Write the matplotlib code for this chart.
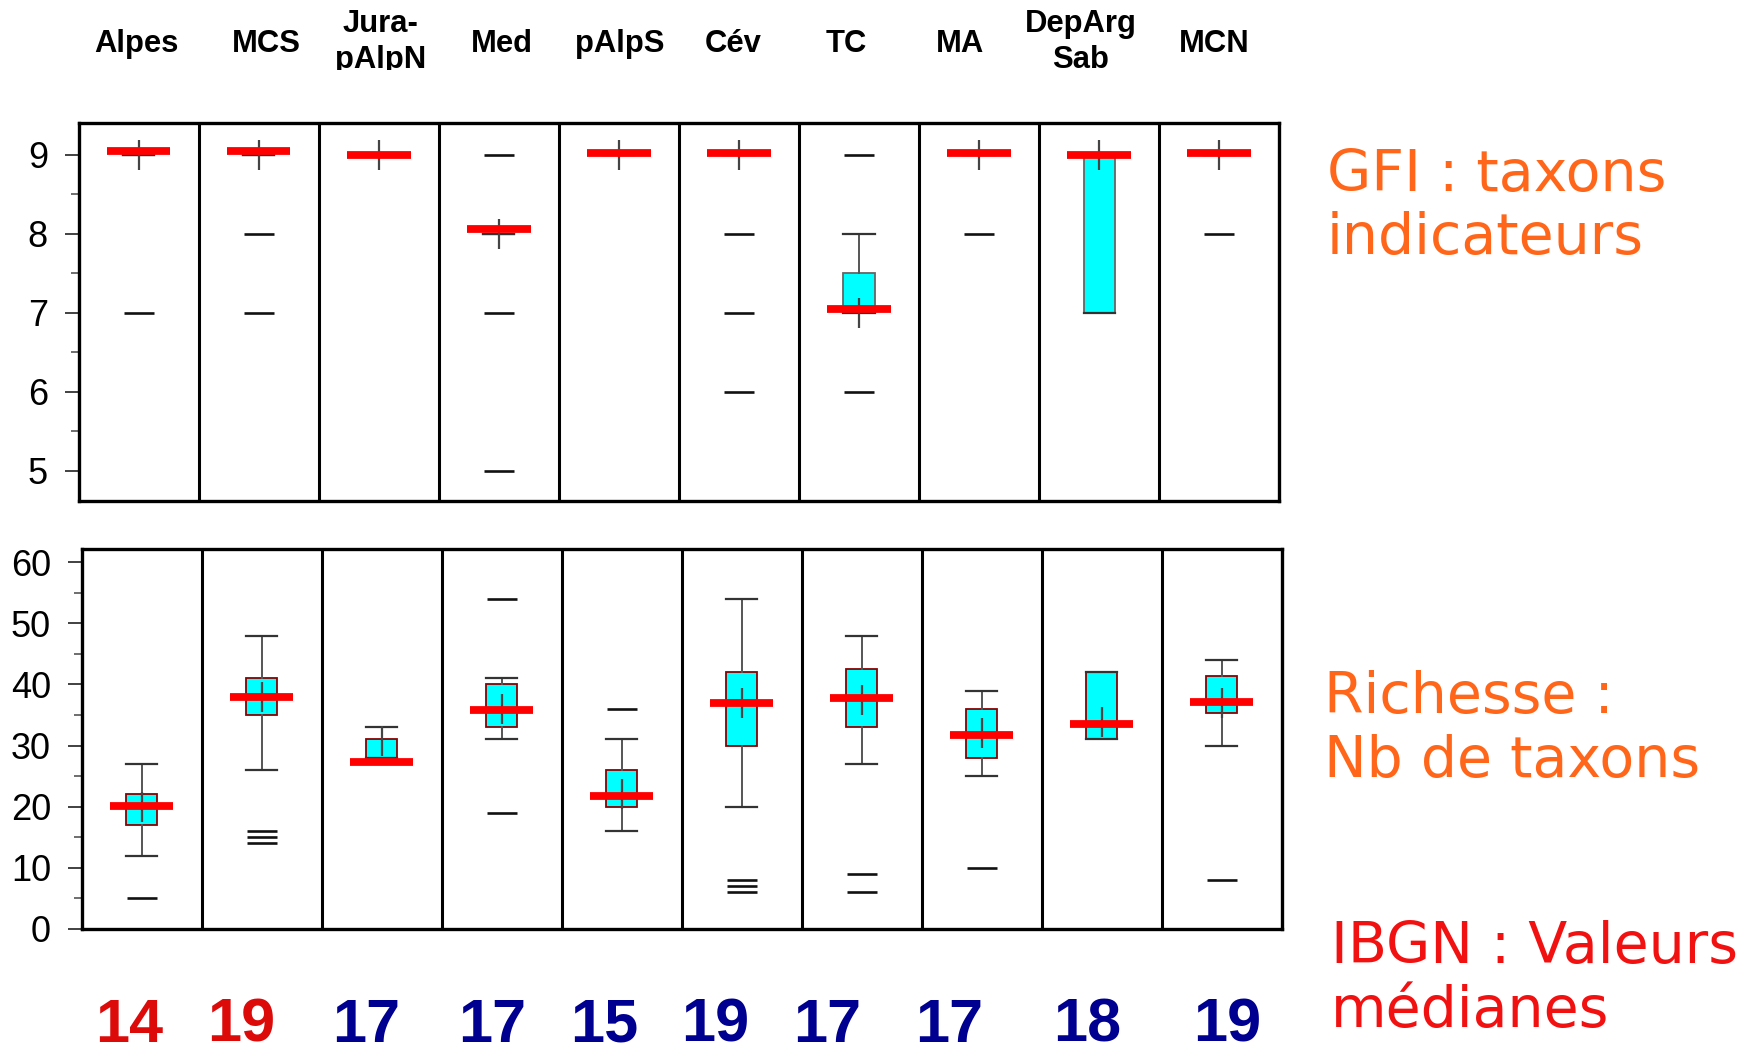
import matplotlib
matplotlib.use("Agg")
import matplotlib.pyplot as plt
from matplotlib.ticker import MultipleLocator, FormatStrFormatter
from matplotlib.transforms import Bbox, TransformedBbox

# ---- data -------------------------------------------------------------
regions = ["Alpes", "MCS", "Jura-\npAlpN", "Med", "pAlpS", "Cév", "TC", "MA",
           "DepArg\nSab", "MCN"]

# GFI: indicator taxa group, per region
gfi_q1 = [9, 9, 9, 8, 9, 9, 7, 9, 7, 9]
gfi_q3 = [9, 9, 9, 8, 9, 9, 7.5, 9, 9, 9]
gfi_low = [9, 9, 9, 8, 9, 9, 7, 9, 7, 9]
gfi_high = [9, 9, 9, 8, 9, 9, 8, 9, 9, 9]
gfi_median = [9.04, 9.04, 9.0, 8.06, 9.02, 9.02, 7.04, 9.02, 9.0, 9.02]
gfi_mean = [9, 9, 9, 8, 9, 9, 7, 9, 9, 9]
gfi_outliers = [[7], [8, 7], [], [9, 7, 5], [], [8, 7, 6], [9, 6], [8], [], [8]]

# Richness: number of taxa, per region
rich_q1 = [17, 35, 28, 33, 20, 30, 33, 28, 31, 35.4]
rich_q3 = [22, 41, 31, 40, 26, 42, 42.5, 36, 42, 41.4]
rich_low = [12, 26, 28, 31, 16, 20, 27, 25, 31, 30]
rich_high = [27, 48, 33, 41, 31, 54, 48, 39, 42, 44]
rich_median = [20.1, 37.9, 27.3, 35.8, 21.8, 36.9, 37.7, 31.8, 33.6, 37.1]
rich_mean = [20.0, 37.9, 30.8, 36.0, 22.0, 37.0, 37.4, 32.0, 33.9, 36.9]
rich_outliers = [[5], [16, 15, 14], [], [54, 19], [36], [8, 7, 6], [9, 6], [10], [],
                 [8]]

# IBGN median score per region
ibgn_median = [14, 19, 17, 17, 15, 19, 17, 17, 18, 19]

# ---- style / layout ---------------------------------------------------
W, H = 1757, 1056
ibgn_colors = ["#DD0A0A", "#DD0A0A"] + ["#000090"] * 8
label_x_px = [136.6, 266.4, 380.3, 502.3, 620.0, 733.6, 846.7, 960.2, 1080.5, 1214.4]
ibgn_x_px = [129, 241, 366, 492, 604, 715, 827, 949, 1087, 1227]
ORANGE = "#FF6619"
RED_TXT = "#F21111"

plt.rcParams["font.family"] = ["Liberation Sans", "DejaVu Sans"]

fig = plt.figure(figsize=(W / 100, H / 100), dpi=100)
ax_top = fig.add_axes([0.0447, 0.5256, 0.6834, 0.3576])
ax_bot = fig.add_axes([0.0464, 0.1203, 0.6830, 0.3595])


def draw_panel(ax, q1, q3, lo, hi, med, mean, outl, ylim, major, minor, box_edge):
    n = len(q1)
    stats = [dict(q1=q1[i], q3=q3[i], whislo=lo[i], whishi=hi[i], med=med[i],
                  mean=mean[i], fliers=outl[i]) for i in range(n)]
    ax.bxp(stats, positions=list(range(n)), widths=0.26, capwidths=0.26,
           showmeans=True, patch_artist=True, manage_ticks=False,
           boxprops=dict(facecolor="#00FFFF", edgecolor=box_edge, linewidth=1.3),
           whiskerprops=dict(color="#555555", linewidth=1.4),
           capprops=dict(color="#333333", linewidth=1.6),
           medianprops=dict(linewidth=0),
           flierprops=dict(marker="_", markersize=22, markeredgewidth=1.9,
                           markeredgecolor="#111111"),
           meanprops=dict(marker="|", markersize=21, markeredgewidth=1.6,
                          markeredgecolor="#444444", zorder=4))
    # thick red median bars
    for i in range(n):
        ax.hlines(med[i], i - 0.265, i + 0.265, colors="#FF0000", linewidth=5.6,
                  zorder=5)
    # column separators
    for i in range(n - 1):
        ax.axvline(i + 0.5, color="black", linewidth=2.2, zorder=6)
    ax.set_xlim(-0.5, n - 0.5)
    ax.set_ylim(*ylim)
    ax.set_xticks([])
    ax.yaxis.set_major_locator(MultipleLocator(major))
    ax.yaxis.set_minor_locator(MultipleLocator(minor))
    ax.yaxis.set_major_formatter(FormatStrFormatter("%d"))
    ax.tick_params(axis="y", which="major", length=10, width=1.3, color="#333333",
                   labelsize=26, pad=12, direction="out")
    ax.tick_params(axis="y", which="minor", length=6, width=1.2, color="#555555",
                   direction="out")
    for sp in ax.spines.values():
        sp.set_linewidth(2.4)
        sp.set_color("black")
        sp.set_zorder(7)


draw_panel(ax_top, gfi_q1, gfi_q3, gfi_low, gfi_high, gfi_median, gfi_mean,
           gfi_outliers, (4.616, 9.396), 1, 0.5, "#666666")
draw_panel(ax_bot, rich_q1, rich_q3, rich_low, rich_high, rich_median, rich_mean,
           rich_outliers, (0, 62.1), 10, 5, "#8B0000")

# region names above the columns
clip = TransformedBbox(Bbox([[0, 1 - 70 / H], [1, 1]]), fig.transFigure)
for name, xp in zip(regions, label_x_px):
    lines = name.split("\n")
    baselines = [51.7] if len(lines) == 1 else [31.7, 68.3]
    for line, yb in zip(lines, baselines):
        t = fig.text(xp / W, 1 - yb / H, line, ha="center", va="baseline",
                     fontsize=22.3, fontweight="bold", color="black")
        t.set_clip_box(clip)
        t.set_clip_on(True)

# median IBGN scores under the columns
for val, xp, col in zip(ibgn_median, ibgn_x_px, ibgn_colors):
    fig.text(xp / W, 1 - 1042 / H, str(val), ha="center", va="baseline",
             fontsize=44, fontweight="bold", color=col)

# panel captions on the right
side = dict(ha="left", va="baseline", fontsize=41, family=["DejaVu Sans"])
fig.text(1327 / W, 1 - 191 / H, "GFI : taxons", color=ORANGE, **side)
fig.text(1327 / W, 1 - 254 / H, "indicateurs", color=ORANGE, **side)
fig.text(1324 / W, 1 - 712.7 / H, "Richesse :", color=ORANGE, **side)
fig.text(1324 / W, 1 - 776.7 / H, "Nb de taxons", color=ORANGE, **side)
fig.text(1331 / W, 1 - 962.7 / H, "IBGN : Valeurs", color=RED_TXT, **side)
fig.text(1331 / W, 1 - 1026.7 / H, "médianes", color=RED_TXT, **side)

fig.savefig("out.png", dpi=100, facecolor="white")
